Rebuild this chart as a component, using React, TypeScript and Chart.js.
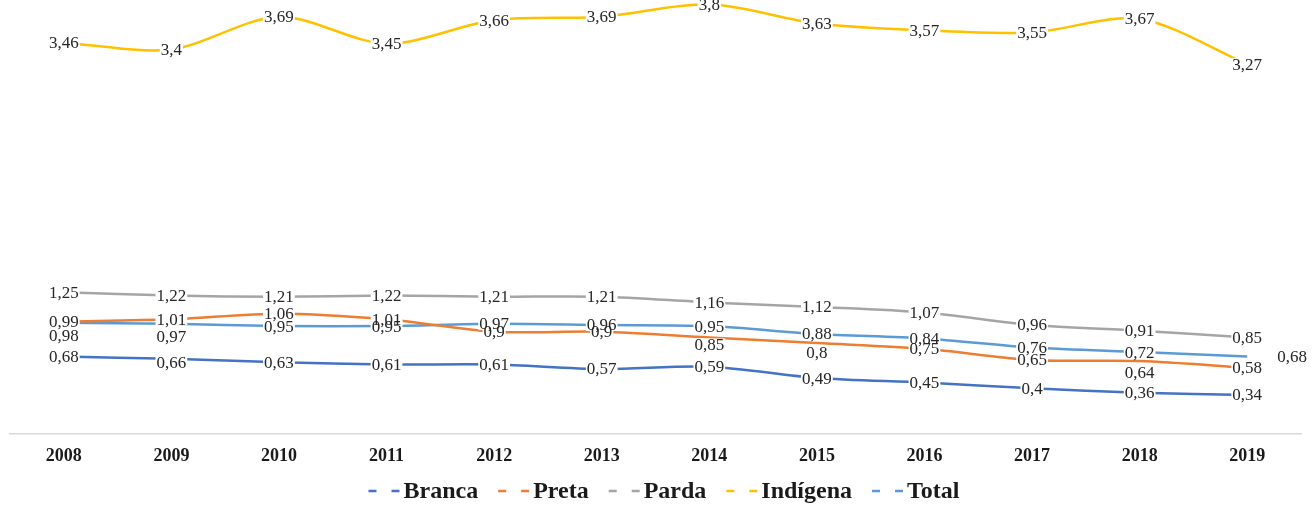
import React, { useEffect, useRef } from "react";
import { Chart, registerables } from "chart.js";

Chart.register(...registerables);

const years = ["2008", "2009", "2010", "2011", "2012", "2013", "2014", "2015", "2016", "2017", "2018", "2019"];
const seriesNames = ["Branca", "Preta", "Parda", "Indígena", "Total"];
const branca = [0.68, 0.66, 0.63, 0.61, 0.61, 0.57, 0.59, 0.49, 0.45, 0.4, 0.36, 0.34];
const preta = [0.99, 1.01, 1.06, 1.01, 0.9, 0.9, 0.85, 0.8, 0.75, 0.65, 0.64, 0.58];
const parda = [1.25, 1.22, 1.21, 1.22, 1.21, 1.21, 1.16, 1.12, 1.07, 0.96, 0.91, 0.85];
const indigena = [3.46, 3.4, 3.69, 3.45, 3.66, 3.69, 3.8, 3.63, 3.57, 3.55, 3.67, 3.27];
const total = [0.98, 0.97, 0.95, 0.95, 0.97, 0.96, 0.95, 0.88, 0.84, 0.76, 0.72, 0.68];

const colors = ["#4472C4", "#ED7D31", "#A5A5A5", "#FFC000", "#5B9BD5"];
const SERIF = "'Liberation Serif', 'Times New Roman', serif";

// label nudges (style only): "dataset-index" -> [dx, dy]
const labelNudge: Record<string, [number, number]> = {
  "4-0": [0, 13],
  "4-1": [0, 13],
  "4-11": [45, 0],
  "1-6": [0, 7],
  "1-7": [0, 9],
  "1-10": [0, 11],
  "0-1": [0, 4],
};

const fmt = (v: number) => String(v).replace(".", ",");

const labelPlugin = {
  id: "valueLabels",
  afterDatasetsDraw(chart: any) {
    const ctx = chart.ctx;
    ctx.save();
    ctx.font = `17px ${SERIF}`;
    ctx.textAlign = "center";
    ctx.textBaseline = "middle";
    const items: { x: number; y: number; t: string }[] = [];
    chart.data.datasets.forEach((ds: any, di: number) => {
      const meta = chart.getDatasetMeta(di);
      meta.data.forEach((el: any, i: number) => {
        const n = labelNudge[`${di}-${i}`] || [0, 0];
        items.push({ x: el.x + n[0], y: el.y + n[1], t: fmt(ds.data[i]) });
      });
    });
    ctx.fillStyle = "#ffffff";
    items.forEach((it) => {
      const w = ctx.measureText(it.t).width + 2;
      ctx.fillRect(it.x - w / 2, it.y - 6, w, 12);
    });
    ctx.fillStyle = "#262626";
    items.forEach((it) => ctx.fillText(it.t, it.x, it.y + 1));
    ctx.restore();
  },
};

const legendPlugin = {
  id: "dashLegend",
  afterDraw(chart: any) {
    const ctx = chart.ctx;
    ctx.save();
    ctx.font = `bold 24px ${SERIF}`;
    ctx.textBaseline = "middle";
    ctx.textAlign = "left";
    const markerW = 35;
    const gap = 20;
    const widths = seriesNames.map((n) => ctx.measureText(n).width);
    const totalW = widths.reduce((a, b) => a + b, 0) + seriesNames.length * markerW + (seriesNames.length - 1) * gap;
    let x = 664 - totalW / 2;
    const y = 491;
    seriesNames.forEach((n, i) => {
      ctx.strokeStyle = colors[i];
      ctx.lineWidth = 2.5;
      ctx.beginPath();
      ctx.moveTo(x, y);
      ctx.lineTo(x + 8, y);
      ctx.moveTo(x + 23, y);
      ctx.lineTo(x + 31, y);
      ctx.stroke();
      ctx.fillStyle = "#1a1a1a";
      ctx.fillText(n, x + markerW, y + 1);
      x += markerW + widths[i] + gap;
    });
    ctx.restore();
  },
};

export default function App() {
  const ref = useRef<HTMLCanvasElement>(null);
  useEffect(() => {
    document.body.style.margin = "0";
    const seriesData = [branca, preta, parda, indigena, total];
    const chart = new Chart(ref.current!, {
      type: "line",
      data: {
        labels: years,
        datasets: seriesNames.map((name, i) => ({
          label: name,
          data: seriesData[i],
          borderColor: colors[i],
          backgroundColor: colors[i],
          borderWidth: 2.5,
          pointRadius: 0,
          tension: 0.3,
          fill: false,
        })),
      },
      options: {
        animation: false,
        responsive: false,
        maintainAspectRatio: false,
        layout: { padding: { left: 10, right: 14, top: 2, bottom: 26 } },
        plugins: { legend: { display: false }, tooltip: { enabled: false } },
        scales: {
          x: {
            offset: true,
            grid: { display: false, drawTicks: false },
            border: { display: true, color: "#d9d9d9", width: 1.5 },
            ticks: {
              padding: 12,
              color: "#1a1a1a",
              font: { family: SERIF, size: 18, weight: "bold" },
              maxRotation: 0,
              autoSkip: false,
            },
          },
          y: { display: false, min: 0, max: 3.82 },
        },
      },
      plugins: [labelPlugin, legendPlugin],
    });
    return () => chart.destroy();
  }, []);
  return (
    <div style={{ width: 1315, height: 505 }}>
      <canvas ref={ref} width={1315} height={505} style={{ display: "block" }} />
    </div>
  );
}
